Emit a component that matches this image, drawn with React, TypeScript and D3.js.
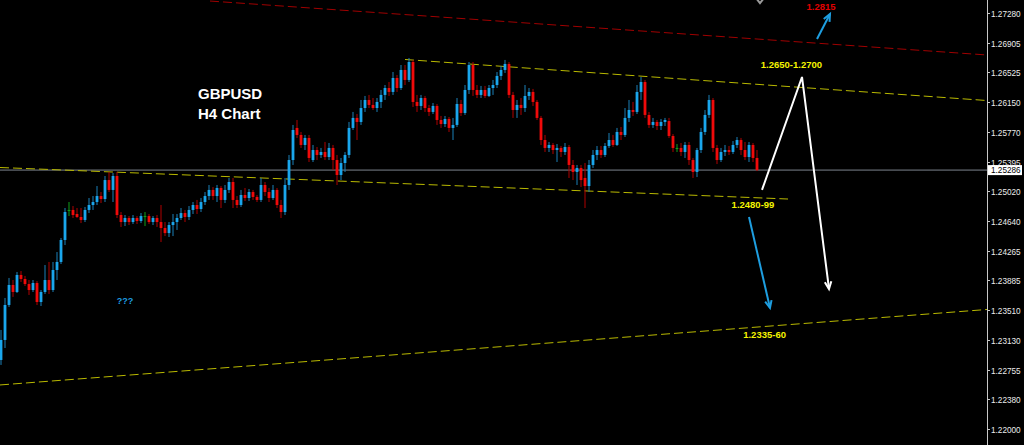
import React from "react";
import * as d3 from "d3";

// GBPUSD H4 candles: [open, high, low, close]
const candles: [number, number, number, number][] = [
  [1.22876, 1.23257, 1.22813, 1.2313],
  [1.2313, 1.23663, 1.23028, 1.23574],
  [1.23574, 1.23917, 1.23549, 1.23828],
  [1.23828, 1.23891, 1.23676, 1.23739],
  [1.23739, 1.23993, 1.23726, 1.23955],
  [1.23955, 1.24005, 1.23866, 1.23904],
  [1.23904, 1.23942, 1.23815, 1.2384],
  [1.2384, 1.23891, 1.23701, 1.23764],
  [1.23764, 1.23891, 1.23739, 1.23853],
  [1.23853, 1.23878, 1.23574, 1.23612],
  [1.23612, 1.23764, 1.23561, 1.23739],
  [1.23739, 1.24081, 1.23714, 1.23891],
  [1.23891, 1.2412, 1.23714, 1.23764],
  [1.23764, 1.2412, 1.23739, 1.24018],
  [1.24018, 1.24246, 1.23891, 1.2412],
  [1.2412, 1.24424, 1.24094, 1.24399],
  [1.24399, 1.24805, 1.24335, 1.24754],
  [1.2478, 1.24881, 1.24703, 1.2478],
  [1.2478, 1.2483, 1.24678, 1.24716],
  [1.24729, 1.24805, 1.24678, 1.24691],
  [1.24691, 1.24805, 1.24614, 1.24653],
  [1.24653, 1.24818, 1.24627, 1.2478],
  [1.2478, 1.24932, 1.24741, 1.24843],
  [1.24843, 1.24957, 1.2478, 1.24881],
  [1.24881, 1.25084, 1.24843, 1.24957],
  [1.24957, 1.25008, 1.24868, 1.24919],
  [1.24919, 1.25211, 1.24881, 1.2516],
  [1.2516, 1.25262, 1.25008, 1.25034],
  [1.25034, 1.25249, 1.24881, 1.25211],
  [1.25211, 1.25262, 1.24678, 1.24716],
  [1.24716, 1.24754, 1.24564, 1.24627],
  [1.24627, 1.24716, 1.24576, 1.24678],
  [1.24678, 1.24703, 1.24589, 1.24627],
  [1.24627, 1.24716, 1.24602, 1.24678],
  [1.24678, 1.24703, 1.24602, 1.2464],
  [1.2464, 1.24741, 1.24614, 1.24703],
  [1.24703, 1.24754, 1.24576, 1.24703],
  [1.24703, 1.24729, 1.24602, 1.24627],
  [1.24627, 1.24703, 1.24589, 1.24678],
  [1.24678, 1.24716, 1.24564, 1.24627],
  [1.24627, 1.24843, 1.24373, 1.24551],
  [1.24551, 1.24627, 1.24449, 1.24487],
  [1.24487, 1.24627, 1.24437, 1.24589],
  [1.24589, 1.24729, 1.24449, 1.24627],
  [1.24627, 1.24729, 1.24526, 1.24678],
  [1.24678, 1.24805, 1.24653, 1.24741],
  [1.24741, 1.2478, 1.24627, 1.24691],
  [1.24691, 1.2483, 1.24653, 1.2478],
  [1.2478, 1.24881, 1.24729, 1.24843],
  [1.24843, 1.24907, 1.24729, 1.24792],
  [1.24792, 1.24932, 1.24754, 1.24881],
  [1.24881, 1.25008, 1.24843, 1.24957],
  [1.24957, 1.25097, 1.24907, 1.25034],
  [1.25034, 1.25071, 1.24907, 1.24957],
  [1.24957, 1.25097, 1.24881, 1.25059],
  [1.25059, 1.25084, 1.24805, 1.24907],
  [1.24907, 1.25097, 1.24868, 1.25034],
  [1.25034, 1.25186, 1.24995, 1.25135],
  [1.25135, 1.25186, 1.24805, 1.24907],
  [1.24907, 1.24957, 1.24805, 1.24843],
  [1.24843, 1.25034, 1.24818, 1.2497],
  [1.2497, 1.25059, 1.24894, 1.24932],
  [1.24932, 1.25046, 1.24894, 1.25008],
  [1.25008, 1.25034, 1.24907, 1.24945],
  [1.24945, 1.2497, 1.24881, 1.24907],
  [1.24907, 1.25186, 1.24881, 1.25097],
  [1.25097, 1.25135, 1.24957, 1.25008],
  [1.25008, 1.25059, 1.24881, 1.24932],
  [1.24932, 1.25097, 1.24907, 1.25034],
  [1.25034, 1.25059, 1.24805, 1.24843],
  [1.24843, 1.24907, 1.24678, 1.24754],
  [1.24754, 1.25186, 1.24716, 1.25097],
  [1.25097, 1.25478, 1.25034, 1.25414],
  [1.25414, 1.25859, 1.25351, 1.25795],
  [1.25821, 1.25922, 1.25694, 1.25732],
  [1.25732, 1.2577, 1.25567, 1.25605],
  [1.25605, 1.25732, 1.25541, 1.25694],
  [1.25694, 1.25732, 1.25389, 1.2544],
  [1.25414, 1.25605, 1.25389, 1.25541],
  [1.25541, 1.25579, 1.25414, 1.25478],
  [1.25478, 1.25567, 1.2544, 1.25516],
  [1.25516, 1.25643, 1.25414, 1.25452],
  [1.25452, 1.2563, 1.25414, 1.25567],
  [1.25567, 1.25605, 1.25287, 1.25414],
  [1.25414, 1.25478, 1.25097, 1.25224],
  [1.25224, 1.2544, 1.2516, 1.25376],
  [1.25376, 1.25516, 1.25262, 1.25478],
  [1.25478, 1.25897, 1.2544, 1.25821],
  [1.25821, 1.26024, 1.25795, 1.25948],
  [1.25948, 1.25998, 1.25668, 1.25897],
  [1.25897, 1.26176, 1.25859, 1.26074],
  [1.26074, 1.26227, 1.26024, 1.26176],
  [1.26176, 1.2624, 1.26074, 1.26113],
  [1.26113, 1.26201, 1.26049, 1.26074],
  [1.26074, 1.26201, 1.26024, 1.26151],
  [1.26151, 1.26303, 1.26074, 1.2624],
  [1.2624, 1.26366, 1.26176, 1.26328],
  [1.26328, 1.26404, 1.26227, 1.26278],
  [1.26278, 1.26531, 1.2624, 1.26455],
  [1.26455, 1.26493, 1.26278, 1.26328],
  [1.26328, 1.2662, 1.26303, 1.26557],
  [1.26557, 1.2662, 1.26366, 1.2643],
  [1.2643, 1.26709, 1.26404, 1.26658],
  [1.26658, 1.26684, 1.26087, 1.26151],
  [1.26151, 1.2624, 1.26024, 1.261],
  [1.261, 1.2624, 1.26049, 1.26201],
  [1.26201, 1.26227, 1.26024, 1.26074],
  [1.26074, 1.26113, 1.25973, 1.26024],
  [1.26024, 1.26138, 1.25998, 1.261],
  [1.261, 1.26125, 1.25859, 1.25922],
  [1.25922, 1.25973, 1.25821, 1.25871],
  [1.25871, 1.25973, 1.25833, 1.25935],
  [1.25935, 1.2596, 1.2577, 1.25821],
  [1.25821, 1.25948, 1.25668, 1.25859],
  [1.25859, 1.26201, 1.25833, 1.26125],
  [1.26125, 1.26176, 1.25973, 1.26011],
  [1.26011, 1.26366, 1.25986, 1.26303],
  [1.26303, 1.26658, 1.26252, 1.2662],
  [1.2662, 1.26658, 1.26227, 1.26303],
  [1.26303, 1.26366, 1.26201, 1.2624],
  [1.2624, 1.26354, 1.26201, 1.26303],
  [1.26303, 1.26354, 1.26201, 1.26227],
  [1.26227, 1.26366, 1.26214, 1.26328],
  [1.26328, 1.2643, 1.2624, 1.26366],
  [1.26366, 1.26531, 1.26328, 1.26481],
  [1.26481, 1.26607, 1.2643, 1.26557],
  [1.26557, 1.26684, 1.26519, 1.26633],
  [1.26633, 1.26658, 1.26201, 1.2624],
  [1.2624, 1.26278, 1.25948, 1.26049],
  [1.26049, 1.26176, 1.25948, 1.26113],
  [1.26113, 1.26201, 1.25986, 1.26074],
  [1.26074, 1.26366, 1.26024, 1.26227],
  [1.26227, 1.26328, 1.26176, 1.26278],
  [1.26278, 1.26316, 1.261, 1.26151],
  [1.26151, 1.26176, 1.25922, 1.25948],
  [1.25948, 1.25973, 1.25605, 1.25668],
  [1.25668, 1.25732, 1.25516, 1.25567],
  [1.25567, 1.25643, 1.25516, 1.25605],
  [1.25605, 1.2563, 1.2549, 1.25541],
  [1.25541, 1.25617, 1.25389, 1.25567],
  [1.25567, 1.25592, 1.25452, 1.25516],
  [1.25516, 1.2563, 1.25478, 1.25579],
  [1.25579, 1.25605, 1.25186, 1.25351],
  [1.25351, 1.25414, 1.2516, 1.25262],
  [1.25262, 1.25351, 1.25097, 1.25313],
  [1.25313, 1.25351, 1.25071, 1.2516],
  [1.25186, 1.25376, 1.24805, 1.25084],
  [1.25084, 1.25414, 1.25008, 1.25351],
  [1.25351, 1.25541, 1.25313, 1.25478],
  [1.25478, 1.25592, 1.25414, 1.25541],
  [1.25541, 1.25592, 1.2544, 1.25478],
  [1.25478, 1.2563, 1.25452, 1.25592],
  [1.25592, 1.25757, 1.25567, 1.25668],
  [1.25668, 1.25732, 1.25579, 1.25605],
  [1.25605, 1.25821, 1.25592, 1.2577],
  [1.2577, 1.25833, 1.25668, 1.25732],
  [1.25732, 1.26074, 1.25706, 1.25948],
  [1.25948, 1.26176, 1.25897, 1.26049],
  [1.26049, 1.26151, 1.25973, 1.26024],
  [1.26024, 1.26366, 1.25998, 1.26278],
  [1.26278, 1.26468, 1.26176, 1.26404],
  [1.26404, 1.2643, 1.25948, 1.25986],
  [1.25986, 1.26024, 1.25821, 1.25859],
  [1.25859, 1.25948, 1.25821, 1.25897],
  [1.25897, 1.25922, 1.25795, 1.25846],
  [1.25846, 1.25935, 1.25795, 1.25897],
  [1.25897, 1.25948, 1.25846, 1.25922],
  [1.25909, 1.25948, 1.25694, 1.25719],
  [1.25719, 1.25744, 1.25516, 1.25567],
  [1.25567, 1.25617, 1.25516, 1.25567],
  [1.25567, 1.2563, 1.25465, 1.25516],
  [1.25516, 1.25643, 1.2544, 1.25605],
  [1.25605, 1.25643, 1.25351, 1.25414],
  [1.25414, 1.2544, 1.25186, 1.25262],
  [1.25262, 1.25567, 1.25198, 1.25541],
  [1.25541, 1.25821, 1.25503, 1.2577],
  [1.2577, 1.26049, 1.25732, 1.25986],
  [1.25986, 1.2624, 1.25948, 1.26176],
  [1.26176, 1.26201, 1.25516, 1.25567],
  [1.25567, 1.25605, 1.25363, 1.25414],
  [1.25414, 1.25567, 1.25389, 1.25516],
  [1.25516, 1.25605, 1.25465, 1.25541],
  [1.25541, 1.25592, 1.25478, 1.25516],
  [1.25516, 1.25655, 1.2549, 1.25605],
  [1.25605, 1.25706, 1.25567, 1.25668],
  [1.25668, 1.25694, 1.25478, 1.25541],
  [1.25541, 1.25643, 1.25414, 1.25452],
  [1.25452, 1.25643, 1.25389, 1.25605],
  [1.25605, 1.2563, 1.25389, 1.2544],
  [1.2544, 1.25541, 1.25274, 1.25286],
];

const axisTicks = [
  1.2728, 1.26905, 1.26525, 1.2615, 1.2577, 1.25395, 1.2502, 1.2464, 1.24265,
  1.23885, 1.2351, 1.2313, 1.22755, 1.2238, 1.22,
];
const currentPrice = 1.25286;

// trend lines: [[barIndex, price], [barIndex, price]]
const redLine: [number, number][] = [[52.25, 1.27432], [246.5, 1.26747]];
const upperChannel: [number, number][] = [[101, 1.2669], [246.5, 1.26169]];
const middleChannel: [number, number][] = [[-0.25, 1.25319], [196.75, 1.24919]];
const lowerChannel: [number, number][] = [[-0.25, 1.22559], [246.5, 1.23517]];

// projected paths
const whitePath: [number, number][] = [[190.25, 1.25034], [200.25, 1.26468], [207, 1.23777]];
const blueDown: [number, number][] = [[187, 1.24691], [192.25, 1.23536]];
const blueUp: [number, number][] = [[204, 1.2695], [207.25, 1.27268]];
// partly visible grey arrow tip at the top edge
const greyTip: [number, number][] = [[188.9, 1.2746], [189.75, 1.27405], [190.6, 1.2746]];

// text annotations: [barIndex, price, text]
const yellowLabels: [number, number, string][] = [
  [197.6, 1.26576, "1.2650-1.2700"],
  [188, 1.24805, "1.2480-99"],
  [190.9, 1.23155, "1.2335-60"],
];
const redLabels: [number, number, string][] = [[205, 1.27318, "1.2815"]];
const blueLabels: [number, number, string][] = [[31, 1.23587, "???"]];
const titleLines = ["GBPUSD", "H4 Chart"];

const W = 1024;
const H = 445;
const AXIS_X = 987;

const x = d3.scaleLinear().domain([0, 189]).range([1, 757]);
const y = d3.scaleLinear().domain([1.22, 1.2728]).range([429, 13]);
const fmt = d3.format(".5f");

const BULL = "#1aa6ec";
const BULL_WICK = "#1b80b8";
const BEAR = "#f00a0a";
const BEAR_WICK = "#b00000";
const DOJI = "#0fa01a";
const YELLOW_LINE = "#b9b900";
const YELLOW_TEXT = "#f4f400";
const BLUE = "#1e9ee0";

const lineGen = d3
  .line<[number, number]>()
  .x((d) => x(d[0]))
  .y((d) => y(d[1]));

function arrowHead(pts: [number, number][], len = 8, ang = 0.42) {
  const a = pts[pts.length - 2];
  const b = pts[pts.length - 1];
  const x1 = x(a[0]), y1 = y(a[1]), x2 = x(b[0]), y2 = y(b[1]);
  const t = Math.atan2(y2 - y1, x2 - x1);
  const p1 = [x2 - len * Math.cos(t - ang), y2 - len * Math.sin(t - ang)];
  const p2 = [x2 - len * Math.cos(t + ang), y2 - len * Math.sin(t + ang)];
  return `M${p1[0]},${p1[1]}L${x2},${y2}L${p2[0]},${p2[1]}`;
}

export default function App() {
  const font = "'Liberation Sans', Arial, sans-serif";
  return (
    <svg
      width={W}
      height={H}
      style={{ position: "absolute", left: 0, top: 0, display: "block", background: "#000" }}
    >
      <rect x={0} y={0} width={W} height={H} fill="#000" />
      <defs>
        <clipPath id="plot">
          <rect x={0} y={0} width={AXIS_X} height={H} />
        </clipPath>
      </defs>
      <g clipPath="url(#plot)">
        {/* current price line */}
        <line
          x1={0}
          x2={AXIS_X}
          y1={y(currentPrice)}
          y2={y(currentPrice)}
          stroke="#474b51"
          strokeWidth={1.6}
        />
        {/* trend lines */}
        <path d={lineGen(redLine) || ""} stroke="#a00000" strokeWidth={1} strokeDasharray="9 4" fill="none" />
        <path d={lineGen(upperChannel) || ""} stroke={YELLOW_LINE} strokeWidth={1} strokeDasharray="9 4" fill="none" />
        <path d={lineGen(middleChannel) || ""} stroke={YELLOW_LINE} strokeWidth={1} strokeDasharray="9 4" fill="none" />
        <path d={lineGen(lowerChannel) || ""} stroke={YELLOW_LINE} strokeWidth={1} strokeDasharray="9 4" fill="none" />

        {/* candles */}
        {candles.map((c, i) => {
          const [o, h, l, cl] = c;
          const cx = x(i);
          const up = cl > o;
          const doji = cl === o;
          const bodyCol = doji ? DOJI : up ? BULL : BEAR;
          const wickCol = doji ? DOJI : up ? BULL_WICK : BEAR_WICK;
          const top = y(Math.max(o, cl));
          const bot = y(Math.min(o, cl));
          return (
            <g key={i}>
              <line x1={cx} x2={cx} y1={y(h)} y2={y(l)} stroke={wickCol} strokeWidth={1} />
              <rect x={cx - 1.4} y={top} width={2.8} height={Math.max(1, bot - top)} fill={bodyCol} />
            </g>
          );
        })}

        {/* projections */}
        <path d={lineGen(whitePath) || ""} stroke="#fff" strokeWidth={2} fill="none" />
        <path d={arrowHead(whitePath)} stroke="#fff" strokeWidth={2} fill="none" />
        <path d={lineGen(blueDown) || ""} stroke={BLUE} strokeWidth={2} fill="none" />
        <path d={arrowHead(blueDown)} stroke={BLUE} strokeWidth={2} fill="none" />
        <path d={lineGen(blueUp) || ""} stroke={BLUE} strokeWidth={2} fill="none" />
        <path d={arrowHead(blueUp)} stroke={BLUE} strokeWidth={2} fill="none" />
        <path d={lineGen(greyTip) || ""} stroke="#9a9a9a" strokeWidth={2} fill="none" />
      </g>

      {/* annotations */}
      {yellowLabels.map(([i, p, t]) => (
        <text key={t} x={x(i)} y={y(p)} fill={YELLOW_TEXT} fontFamily={font} fontWeight="bold" fontSize={9.5} textAnchor="middle">
          {t}
        </text>
      ))}
      {redLabels.map(([i, p, t]) => (
        <text key={t} x={x(i)} y={y(p)} fill="#e00000" fontFamily={font} fontWeight="bold" fontSize={9.5} textAnchor="middle">
          {t}
        </text>
      ))}
      {blueLabels.map(([i, p, t]) => (
        <text key={t} x={x(i)} y={y(p)} fill={BLUE} fontFamily={font} fontWeight="bold" fontSize={9} textAnchor="middle">
          {t}
        </text>
      ))}
      {titleLines.map((t, k) => (
        <text key={t} x={198} y={99 + k * 20} fill="#fff" fontFamily={font} fontWeight="bold" fontSize={15}>
          {t}
        </text>
      ))}

      {/* right price axis */}
      <line x1={AXIS_X + 0.5} x2={AXIS_X + 0.5} y1={0} y2={H} stroke="#c8c8c8" strokeWidth={1} />
      {axisTicks.map((v) => (
        <g key={v} transform={`translate(${AXIS_X},${Math.round(y(v)) + 0.5})`}>
          <line x1={0} x2={3} y1={0} y2={0} stroke="#c8c8c8" />
          <text x={4} y={3} fill="#ececec" fontFamily={font} fontSize={8.2}>
            {fmt(v)}
          </text>
        </g>
      ))}
      <g transform={`translate(${AXIS_X + 1},${y(currentPrice)})`}>
        <rect x={0} y={-5} width={34} height={10} fill="#fff" />
        <text x={3} y={3} fill="#000" fontFamily={font} fontSize={8.2}>
          {fmt(currentPrice)}
        </text>
      </g>
    </svg>
  );
}
